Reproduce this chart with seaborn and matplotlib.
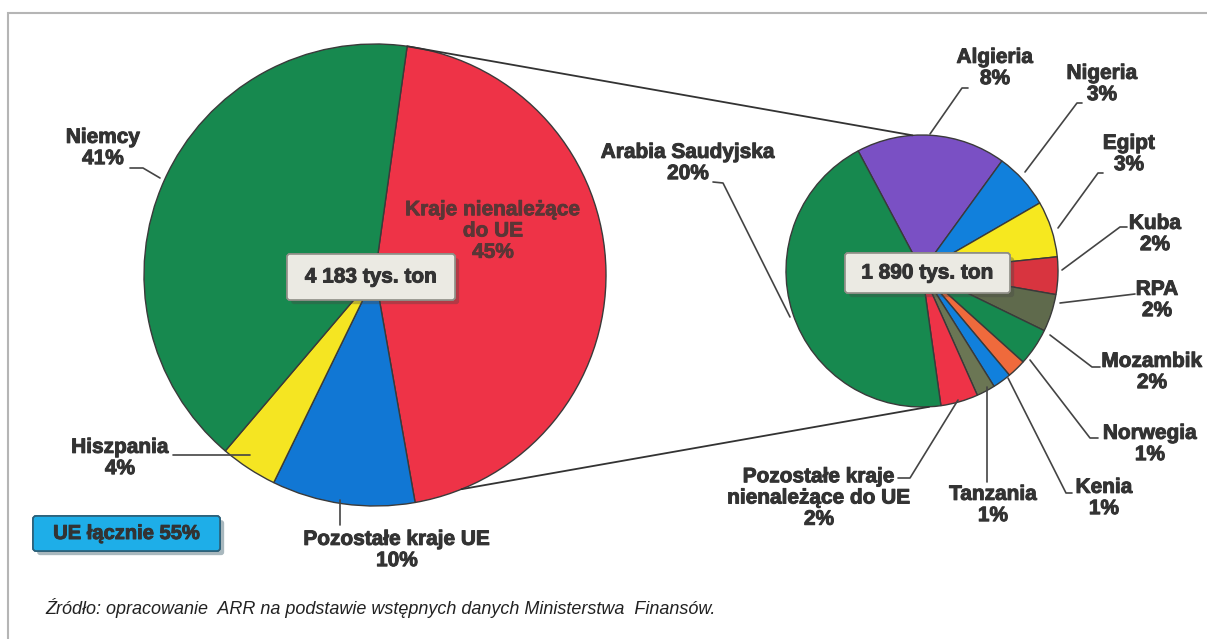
import numpy as np
import matplotlib
matplotlib.use("Agg")
import matplotlib.pyplot as plt
import matplotlib.patheffects as pe
from matplotlib.patches import FancyBboxPatch, Rectangle
import seaborn as sns

# Data - import structure (share of total, %)
left_labels = ["Kraje nienależące\ndo UE", "Pozostałe kraje UE", "Hiszpania", "Niemcy"]
left_shares = [45, 10, 4, 41]
left_colors = ["#ee3347", "#1177d4", "#f5e522", "#17894f"]
left_total = "4 183 tys. ton"

right_labels = ["Algieria", "Nigeria", "Egipt", "Kuba", "RPA", "Mozambik",
                "Norwegia", "Kenia", "Tanzania",
                "Pozostałe kraje\nnienależące do UE", "Arabia Saudyjska"]
right_shares = [8, 3, 3, 2, 2, 2, 1, 1, 1, 2, 20]
right_colors = ["#7a50c4", "#1180dc", "#f6e81f", "#d8343f", "#5f6a4c", "#16894f",
                "#ef6a3c", "#1180dc", "#6b7654", "#ee3347", "#17894f"]
right_total = "1 890 tys. ton"

ue_note = "UE łącznie 55%"
source = "Źródło: opracowanie  ARR na podstawie wstępnych danych Ministerstwa  Finansów."

sns.set_theme(style="white")
plt.rcParams["font.family"] = ["Liberation Sans", "DejaVu Sans"]

W, H = 1207, 639
TXT = "#333333"
heavy = [pe.withStroke(linewidth=0.7, foreground=TXT)]


def px(x, y):
    return x, H - y


fig = plt.figure(figsize=(W / 100, H / 100), dpi=100)
ax = fig.add_axes([0, 0, 1, 1])

wp = dict(edgecolor="#3a3a3a", linewidth=1)
lc, lr = px(375, 275), 231
rc, rr = px(922, 271), 136
ax.pie(left_shares, colors=sns.color_palette(left_colors), startangle=82,
       counterclock=False, center=lc, radius=lr, wedgeprops=wp)
ax.pie(right_shares, colors=sns.color_palette(right_colors), startangle=118,
       counterclock=False, center=rc, radius=rr, wedgeprops=wp)

ax.set_xlim(0, W)
ax.set_ylim(0, H)
ax.axis("off")

# frame
ax.add_patch(Rectangle(px(8, 645), W, 632, fill=False, ec="#b5b5b5", lw=1.5, zorder=0))


def on_circle(c, r, deg):
    a = np.deg2rad(deg)
    return c[0] + r * np.cos(a), c[1] + r * np.sin(a)


# connector lines between the pies
for a_left, a_right in [(82, 94), (-68, -87)]:
    p1 = on_circle(lc, lr, a_left)
    p2 = on_circle(rc, rr, a_right)
    ax.plot([p1[0], p2[0]], [p1[1], p2[1]], color="#333333", lw=1.3, zorder=1)


def label(text, x, y, pct, path, ha="center"):
    ax.text(*px(x, y), f"{text}\n{pct}%", ha=ha, va="center", fontsize=15,
            fontweight="bold", color=TXT, linespacing=1.15, zorder=5,
            path_effects=heavy)
    xs, ys = zip(*[px(a, b) for a, b in path])
    ax.plot(xs, ys, color="#444444", lw=1.2, zorder=4)


# left pie labels
label(left_labels[3], 103, 148, left_shares[3], [(130, 168), (143, 168), (160, 178)])
label(left_labels[2], 120, 458, left_shares[2], [(173, 455), (250, 455)])
label(left_labels[1], 397, 550, left_shares[1], [(340, 500), (340, 525)])
ax.text(*px(493, 231), f"{left_labels[0]}\n{left_shares[0]}%", ha="center", va="center",
        fontsize=15, fontweight="bold", color="#5a3636", linespacing=1.15, zorder=5,
        path_effects=[pe.withStroke(linewidth=0.6, foreground="#5a3636")])

# right pie labels
right_pos = {
    "Algieria": (995, 68, [(968, 88), (962, 88), (930, 134)]),
    "Nigeria": (1102, 84, [(1082, 103), (1077, 103), (1025, 172)]),
    "Egipt": (1129, 154, [(1103, 173), (1098, 173), (1058, 228)]),
    "Kuba": (1155, 234, [(1127, 227), (1120, 227), (1062, 270)]),
    "RPA": (1157, 300, [(1135, 294), (1060, 303)]),
    "Mozambik": (1152, 372, [(1100, 367), (1092, 367), (1050, 335)]),
    "Norwegia": (1150, 444, [(1098, 438), (1090, 438), (1030, 360)]),
    "Kenia": (1104, 498, [(1072, 493), (1066, 493), (1008, 378)]),
    "Tanzania": (993, 505, [(987, 482), (987, 387)]),
    "Pozostałe kraje\nnienależące do UE": (819, 498, [(898, 478), (910, 478), (958, 400)]),
    "Arabia Saudyjska": (688, 163, [(713, 182), (723, 183), (790, 317)]),
}
for name, share in zip(right_labels, right_shares):
    x, y, path = right_pos[name]
    label(name, x, y, share, path)


def box(x0, y0, x1, y1, fc, ec, text, size):
    p = FancyBboxPatch(px(x0, y1), x1 - x0, y1 - y0,
                       boxstyle="round,pad=0,rounding_size=3",
                       fc=fc, ec=ec, lw=1.2, zorder=6)
    p.set_path_effects([pe.withSimplePatchShadow(offset=(3, -3), alpha=0.35), pe.Normal()])
    ax.add_patch(p)
    ax.text(*px((x0 + x1) / 2, (y0 + y1) / 2), text, ha="center", va="center",
            fontsize=size, fontweight="bold", color=TXT, zorder=7, path_effects=heavy)


box(287, 254, 455, 300, "#ebeae3", "#8e8e86", left_total, 15)
box(845, 253, 1010, 293, "#ebeae3", "#8e8e86", right_total, 15)
box(33, 516, 220, 551, "#1eaee8", "#2b5f78", ue_note, 14.5)

ax.text(*px(45, 608), source, ha="left", va="center", fontsize=13,
        style="italic", color="#222222")

fig.savefig("out.png", dpi=100)
